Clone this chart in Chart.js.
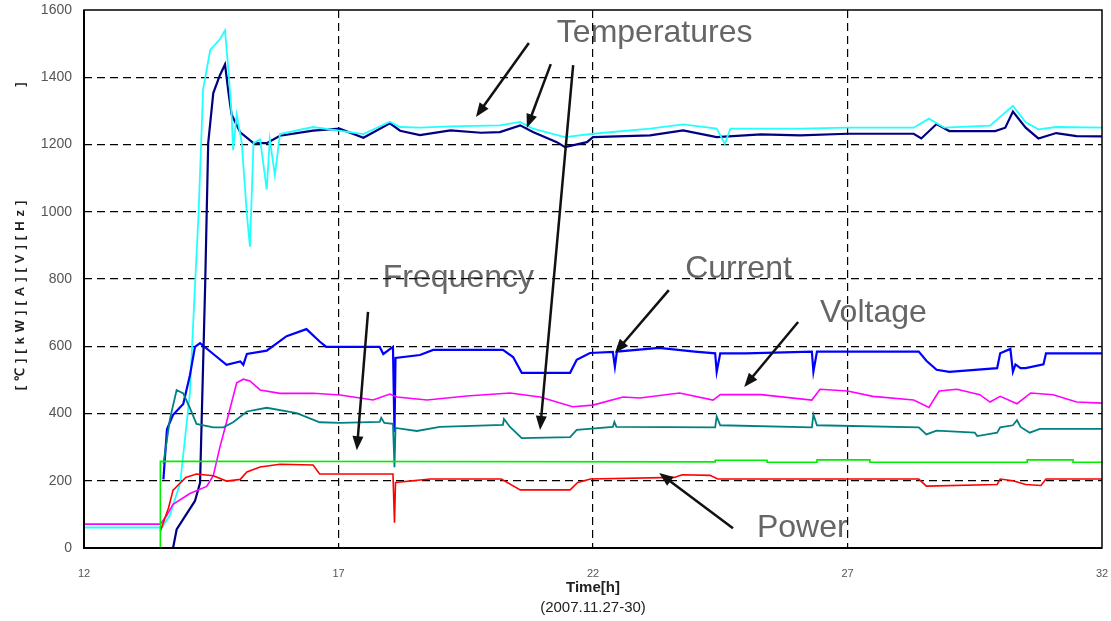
<!DOCTYPE html>
<html>
<head>
<meta charset="utf-8">
<script src="https://cdn.jsdelivr.net/npm/chart.js@4.4.0/dist/chart.umd.min.js"></script>
<style>
html,body{margin:0;padding:0;background:#fff;}
</style>
</head>
<body>
<canvas id="chart" width="1111" height="621"></canvas>
<script>
// time axis [h] and y range
var xTicks = [12, 17, 22, 27, 32];
var yMin = 0, yMax = 1600, yStep = 200;

// temperature 1 (navy)
var timeTemp1 = [12, 13.75, 13.82, 14.0, 14.18, 14.28, 14.38, 14.44, 14.54, 14.67, 14.77, 14.84, 14.9, 15.07, 15.33, 15.59, 15.85, 16.5, 17.02, 17.49, 18.01, 18.21, 18.6, 19.2, 19.8, 20.17, 20.57, 20.82, 21.29, 21.45, 21.88, 22.0, 23.12, 23.77, 24.43, 25.3, 26.07, 27.0, 28.3, 28.45, 28.75, 29.0, 29.9, 30.1, 30.25, 30.5, 30.75, 31.1, 31.5, 32];
var temp1 = [0, 0, 55, 98, 140, 194, 779, 1204, 1353, 1406, 1438, 1353, 1289, 1236, 1204, 1204, 1226, 1241, 1247, 1220, 1263, 1241, 1228, 1242, 1235, 1237, 1257, 1237, 1207, 1192, 1207, 1222, 1227, 1242, 1222, 1230, 1227, 1232, 1232, 1218, 1261, 1240, 1240, 1250, 1298, 1250, 1218, 1234, 1225, 1224];

// temperature 2 (cyan)
var timeTemp2 = [12, 13.53, 13.69, 13.89, 14.08, 14.18, 14.25, 14.34, 14.48, 14.67, 14.77, 14.84, 14.9, 14.93, 15.0, 15.1, 15.2, 15.26, 15.33, 15.46, 15.59, 15.65, 15.75, 15.85, 16.5, 17.49, 18.01, 18.21, 18.6, 19.19, 20.17, 20.57, 20.82, 21.45, 22.0, 23.12, 23.77, 24.43, 24.59, 24.7, 26.07, 27.0, 28.3, 28.6, 28.9, 29.8, 30.25, 30.5, 30.75, 31.1, 32];
var temp2 = [61, 61, 98, 194, 460, 779, 991, 1364, 1481, 1513, 1539, 1417, 1289, 1183, 1289, 1204, 991, 896, 1204, 1215, 1066, 1215, 1109, 1231, 1252, 1231, 1268, 1252, 1250, 1254, 1257, 1267, 1247, 1222, 1232, 1247, 1260, 1247, 1202, 1247, 1247, 1250, 1250, 1277, 1250, 1256, 1315, 1266, 1245, 1252, 1250];

// temperature 3 (teal)
var timeTemp3 = [13.56, 13.69, 13.82, 13.95, 14.08, 14.21, 14.54, 14.74, 14.93, 15.2, 15.59, 16.18, 16.63, 17.03, 17.81, 17.84, 17.9, 18.07, 18.1, 18.12, 18.54, 18.99, 20.23, 20.25, 20.37, 20.6, 21.55, 21.68, 22.39, 22.42, 22.46, 24.4, 24.43, 24.5, 26.3, 26.33, 26.4, 28.4, 28.55, 28.75, 29.5, 29.55, 29.94, 30.0, 30.25, 30.33, 30.4, 30.58, 30.78, 32];
var temp3 = [250, 385, 470, 460, 417, 369, 359, 359, 374, 406, 417, 401, 374, 372, 375, 387, 372, 369, 240, 357, 348, 360, 366, 384, 360, 327, 330, 351, 360, 375, 360, 359, 391, 365, 359, 397, 365, 359, 338, 349, 343, 333, 343, 359, 365, 380, 360, 343, 354, 354];

// current [A] (blue)
var timeCurrent = [13.56, 13.63, 13.75, 13.95, 14.08, 14.18, 14.28, 14.54, 14.8, 15.07, 15.13, 15.2, 15.59, 15.98, 16.37, 16.63, 16.76, 17.81, 17.88, 18.07, 18.1, 18.12, 18.6, 18.86, 20.23, 20.43, 20.6, 21.55, 21.68, 21.94, 22.39, 22.43, 22.47, 23.3, 24.0, 24.4, 24.43, 24.5, 25.0, 26.3, 26.33, 26.4, 28.4, 28.55, 28.75, 29.0, 29.94, 30.0, 30.2, 30.25, 30.3, 30.4, 30.5, 30.85, 30.9, 32];
var current = [204, 353, 396, 428, 513, 598, 609, 577, 545, 555, 545, 577, 587, 630, 651, 614, 598, 598, 577, 598, 345, 565, 574, 589, 589, 568, 521, 521, 560, 580, 583, 539, 584, 595, 584, 579, 524, 579, 579, 584, 524, 584, 584, 557, 530, 524, 535, 579, 592, 524, 546, 535, 535, 546, 579, 579];

// voltage [V] (magenta)
var timeVoltage = [12, 13.5, 13.63, 13.75, 14.08, 14.41, 14.54, 14.67, 14.8, 15.0, 15.13, 15.26, 15.46, 15.85, 16.5, 17.03, 17.68, 18.01, 18.15, 18.74, 19.52, 20.37, 20.96, 21.6, 22.0, 22.59, 22.92, 23.7, 24.36, 24.5, 25.3, 26.3, 26.46, 27.0, 27.5, 28.3, 28.6, 28.8, 29.15, 29.6, 29.8, 30.0, 30.33, 30.6, 31.04, 31.5, 32];
var voltage = [71, 71, 98, 130, 162, 183, 215, 300, 374, 491, 502, 497, 470, 460, 460, 455, 440, 458, 449, 440, 452, 461, 449, 420, 425, 449, 446, 461, 440, 456, 456, 440, 472, 467, 451, 440, 418, 467, 472, 456, 434, 451, 429, 461, 456, 434, 431];

// power [kW] (red)
var timePower = [13.5, 13.66, 13.75, 14.0, 14.21, 14.54, 14.8, 15.07, 15.2, 15.46, 15.85, 16.5, 16.63, 18.07, 18.1, 18.12, 18.8, 20.2, 20.57, 21.55, 21.7, 21.95, 23.6, 23.75, 24.3, 24.45, 28.4, 28.55, 29.94, 30.0, 30.25, 30.5, 30.8, 30.9, 32];
var power = [50, 119, 172, 210, 220, 215, 199, 204, 226, 241, 249, 247, 220, 220, 75, 195, 205, 205, 173, 173, 195, 205, 210, 218, 216, 205, 205, 184, 189, 205, 200, 189, 186, 205, 205];

// frequency [Hz] (green)
var timeFreq = [12, 13.5, 13.5, 24.4, 24.4, 25.42, 25.42, 26.4, 26.4, 27.44, 27.44, 30.53, 30.53, 31.43, 31.43, 32];
var frequency = [0, 0, 258, 256, 261, 261, 255, 255, 262, 262, 255, 255, 262, 262, 255, 255];

// callout texts and arrows, in data units (h, value)
var noteText = ['Temperatures', 'Frequency', 'Current', 'Voltage', 'Power'];
var noteX = [21.29, 17.87, 23.81, 26.46, 25.22];
var noteY = [1505, 776, 803, 672, 33];
var arrowFrom = [[20.74, 1502], [21.17, 1439], [21.61, 1436], [17.58, 702], [23.49, 767], [26.03, 672], [24.75, 59]];
var arrowTo = [[19.70, 1282], [20.70, 1249], [20.96, 351], [17.36, 291], [22.43, 580], [24.97, 479], [23.30, 223]];

function pts(t, v) {
	return t.map(function (x, i) { return {x: x, y: v[i]}; });
}

function arrow(c, x1, y1, x2, y2) {
	var a = Math.atan2(y2 - y1, x2 - x1);
	var hl = 14, hw = 5.5;
	c.beginPath();
	c.moveTo(x1, y1);
	c.lineTo(x2 - Math.cos(a) * hl * 0.8, y2 - Math.sin(a) * hl * 0.8);
	c.stroke();
	c.beginPath();
	c.moveTo(x2, y2);
	c.lineTo(x2 - Math.cos(a) * hl + Math.sin(a) * hw, y2 - Math.sin(a) * hl - Math.cos(a) * hw);
	c.lineTo(x2 - Math.cos(a) * hl - Math.sin(a) * hw, y2 - Math.sin(a) * hl + Math.cos(a) * hw);
	c.closePath();
	c.fill();
}

var overlay = {
	id: 'overlay',
	beforeDraw: function (chart) {
		var c = chart.ctx, xs = chart.scales.x, ys = chart.scales.y;
		c.save();
		c.fillStyle = '#fff';
		c.fillRect(0, 0, chart.width, chart.height);
		c.fillStyle = '#666';
		c.font = '32px "Liberation Sans", Arial, sans-serif';
		c.textBaseline = 'alphabetic';
		for (var i = 0; i < noteText.length; i++) {
			c.fillText(noteText[i], xs.getPixelForValue(noteX[i]), ys.getPixelForValue(noteY[i]));
		}
		c.restore();
	},
	afterDatasetsDraw: function (chart) {
		var c = chart.ctx, xs = chart.scales.x, ys = chart.scales.y, a = chart.chartArea;
		c.save();
		c.strokeStyle = '#111';
		c.fillStyle = '#111';
		c.lineWidth = 2.5;
		for (var i = 0; i < arrowFrom.length; i++) {
			arrow(c, xs.getPixelForValue(arrowFrom[i][0]), ys.getPixelForValue(arrowFrom[i][1]),
				xs.getPixelForValue(arrowTo[i][0]), ys.getPixelForValue(arrowTo[i][1]));
		}
		// plot frame
		c.strokeStyle = '#000';
		c.lineWidth = 1.5;
		c.strokeRect(a.left, a.top, a.right - a.left, a.bottom - a.top);
		c.lineWidth = 2;
		c.beginPath();
		c.moveTo(a.left, a.top);
		c.lineTo(a.left, a.bottom);
		c.lineTo(a.right, a.bottom);
		c.stroke();
		c.restore();
	},
	afterDraw: function (chart) {
		var c = chart.ctx, a = chart.chartArea;
		var cx = (a.left + a.right) / 2;
		c.save();
		c.fillStyle = '#222';
		c.textAlign = 'center';
		c.textBaseline = 'middle';
		c.font = 'bold 15px "Liberation Sans", Arial, sans-serif';
		c.fillText('Time[h]', cx, 588);
		c.font = '15px "Liberation Sans", Arial, sans-serif';
		c.fillText('(2007.11.27-30)', cx, 608);
		c.translate(20, 293);
		c.rotate(-Math.PI / 2);
		c.font = 'bold 13px "Liberation Sans", Arial, sans-serif';
		c.letterSpacing = '5px';
		c.fillText('[\u2103][kW][A][V][Hz]', 0, 0);
		c.fillText(']', 211, 0);
		c.restore();
	}
};

function edgeColor(lo, hi) {
	return function (ctx) {
		if (!ctx.tick) return '#000';
		return (ctx.tick.value === lo || ctx.tick.value === hi) ? 'rgba(0,0,0,0)' : '#000';
	};
}

function noPad(s) {
	s.paddingLeft = 0;
	s.paddingRight = 0;
	s.paddingTop = 0;
	s.paddingBottom = 0;
}

var ctx = document.getElementById('chart').getContext('2d');
var chart = new Chart(ctx, {
	type: 'line',
	data: {
		datasets: [
			{label: 'Frequency', data: pts(timeFreq, frequency), borderColor: '#00ee00', borderWidth: 1.6},
			{label: 'Power', data: pts(timePower, power), borderColor: '#ff0000', borderWidth: 1.6},
			{label: 'Temperature 3', data: pts(timeTemp3, temp3), borderColor: '#008080', borderWidth: 1.8},
			{label: 'Voltage', data: pts(timeVoltage, voltage), borderColor: '#ff00ff', borderWidth: 1.6},
			{label: 'Current', data: pts(timeCurrent, current), borderColor: '#0000ff', borderWidth: 2.2},
			{label: 'Temperature 2', data: pts(timeTemp2, temp2), borderColor: '#22ffff', borderWidth: 1.8},
			{label: 'Temperature 1', data: pts(timeTemp1, temp1), borderColor: '#000080', borderWidth: 2.2}
		]
	},
	options: {
		responsive: false,
		animation: false,
		layout: {padding: {left: 0, right: 9, top: 10, bottom: 0}},
		elements: {point: {radius: 0}, line: {tension: 0, fill: false}},
		plugins: {legend: {display: false}, tooltip: {enabled: false}},
		scales: {
			x: {
				type: 'linear',
				min: xTicks[0],
				max: xTicks[xTicks.length - 1],
				afterBuildTicks: function (s) { s.ticks = xTicks.map(function (v) { return {value: v}; }); },
				ticks: {padding: 19, color: '#555', font: {size: 11, family: '"Liberation Sans", Arial, sans-serif'}},
				grid: {color: edgeColor(12, 32), lineWidth: 1.2, drawTicks: false},
				border: {display: false, dash: [8, 5]},
				afterFit: function (s) { s.height = 73; noPad(s); }
			},
			y: {
				min: yMin,
				max: yMax,
				ticks: {stepSize: yStep, padding: 12, color: '#555', font: {size: 14, family: '"Liberation Sans", Arial, sans-serif'},
					callback: function (v) { return String(v); }},
				grid: {color: edgeColor(yMin, yMax), lineWidth: 1.2, drawTicks: false},
				border: {display: false, dash: [8, 5]},
				afterFit: function (s) { s.width = 84; noPad(s); }
			}
		}
	},
	plugins: [overlay]
});
</script>
</body>
</html>
